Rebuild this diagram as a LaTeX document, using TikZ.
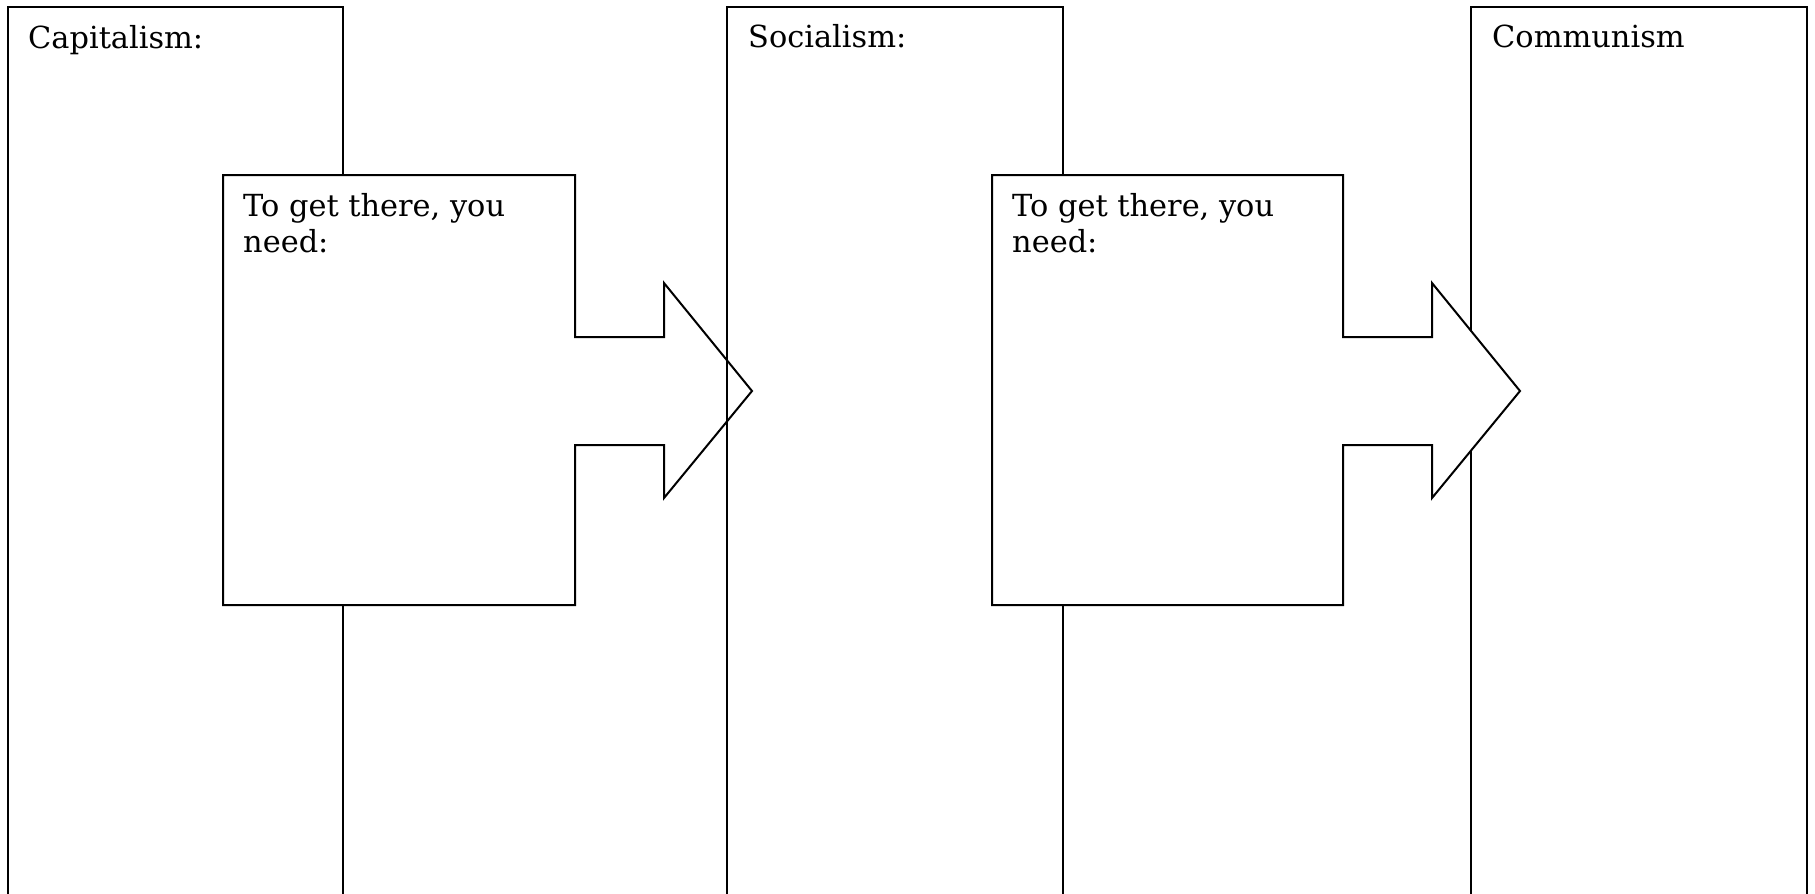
\documentclass[tikz,border=0pt]{standalone}
\usepackage{fontspec}
\setmainfont{DejaVu Serif}
\begin{document}
\begin{tikzpicture}[x=1pt,y=-1pt,
  column/.style={draw=black,line width=2pt,fill=white},
  callout/.style={draw=black,line width=2pt,fill=white,line join=miter},
  label/.style={inner sep=0pt,anchor=base west,font=\fontsize{30.4}{36}\selectfont,align=left}]
\useasboundingbox[fill=white] (0,0) rectangle (1815,894);
\clip (0,0) rectangle (1815,894);
% columns and callouts
\draw[column] (8,7) rectangle (343,910);
\draw[callout] (223,175) -- (575,175) -- (575,337) -- (664,337) -- (664,283) -- (752,391) -- (664,498) -- (664,445) -- (575,445) -- (575,605) -- (223,605) -- cycle;
\draw[column,fill=none] (727,7) rectangle (1063,910);
\draw[column] (1471,7) rectangle (1807,910);
\draw[callout] (992,175) -- (1343,175) -- (1343,337) -- (1432,337) -- (1432,283) -- (1520,391) -- (1432,498) -- (1432,445) -- (1343,445) -- (1343,605) -- (992,605) -- cycle;
% texts
\node[label] (cap) at (28,48) {Capitalism:};
\node[label] (soc) at (748,47) {Socialism:};
\node[label] (com) at (1492,47) {Communism};
\node[label] (need1) at (243,252) {To get there, you\\need:};
\node[label] (need2) at (1012,252) {To get there, you\\need:};
\end{tikzpicture}
\end{document}
